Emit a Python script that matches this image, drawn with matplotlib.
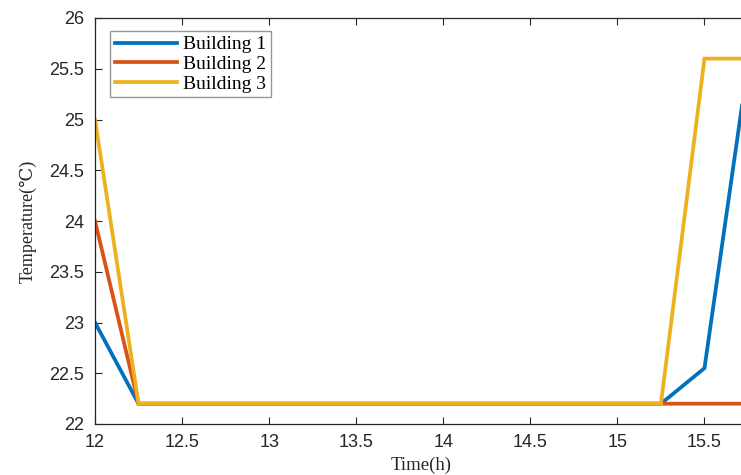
import matplotlib
matplotlib.use("Agg")
import matplotlib.pyplot as plt

time_h = [12.0, 12.25, 12.5, 12.75, 13.0, 13.25, 13.5, 13.75, 14.0, 14.25, 14.5, 14.75, 15.0, 15.25, 15.5, 15.75]
building1 = [23.0, 22.2, 22.2, 22.2, 22.2, 22.2, 22.2, 22.2, 22.2, 22.2, 22.2, 22.2, 22.2, 22.2, 22.55, 25.55]
building2 = [24.0, 22.2, 22.2, 22.2, 22.2, 22.2, 22.2, 22.2, 22.2, 22.2, 22.2, 22.2, 22.2, 22.2, 22.2, 22.2]
building3 = [25.0, 22.2, 22.2, 22.2, 22.2, 22.2, 22.2, 22.2, 22.2, 22.2, 22.2, 22.2, 22.2, 22.2, 25.6, 25.6]
labels = ["Building 1", "Building 2", "Building 3"]
colors = ["#0072BD", "#D95319", "#EDB120"]
xticks = [12, 12.5, 13, 13.5, 14, 14.5, 15, 15.5]
yticks = [22, 22.5, 23, 23.5, 24, 24.5, 25, 25.5, 26]

fig = plt.figure(figsize=(7.41, 4.75), dpi=100)
ax = fig.add_axes([95/741, 51/475, 653/741, 406/475])

for y, lab, c in zip([building1, building2, building3], labels, colors):
    ax.plot(time_h, y, color=c, lw=2.7, label=lab, solid_joinstyle="miter")

ax.set_xlim(12, 15.75)
ax.set_ylim(22, 26)
ax.set_xticks(xticks)
ax.set_yticks(yticks)
ax.set_xticklabels([f"{t:g}" for t in xticks], family="Liberation Sans", fontsize=13, color="#262626")
ax.set_yticklabels([f"{t:g}" for t in yticks], family="Liberation Sans", fontsize=13, color="#262626")
ax.tick_params(direction="in", top=True, right=True, length=5, width=0.8, colors="#262626")
ax.tick_params(axis="y", pad=8)
ax.tick_params(axis="x", pad=7)
for s in ax.spines.values():
    s.set_color("#262626")
    s.set_linewidth(0.9)

ax.set_xlabel("Time(h)", family=["Liberation Serif", "DejaVu Serif"], fontsize=13.5, color="#262626")
ax.set_ylabel("Temperature(\u2103)", family=["Liberation Serif", "DejaVu Serif"], fontsize=13, color="#262626")
ax.xaxis.set_label_coords(0.5, -0.081)
ax.yaxis.set_label_coords(-0.089, 0.5)

leg = ax.legend(loc="upper left", bbox_to_anchor=(0.023, 0.968), prop={"family": "Liberation Serif", "size": 14},
                frameon=True, fancybox=False, edgecolor="#7f7f7f", handlelength=3.2, handletextpad=0.3,
                borderpad=0.25, labelspacing=0.1, borderaxespad=0)
leg.get_frame().set_linewidth(1.0)

fig.savefig("out.png", dpi=100)
